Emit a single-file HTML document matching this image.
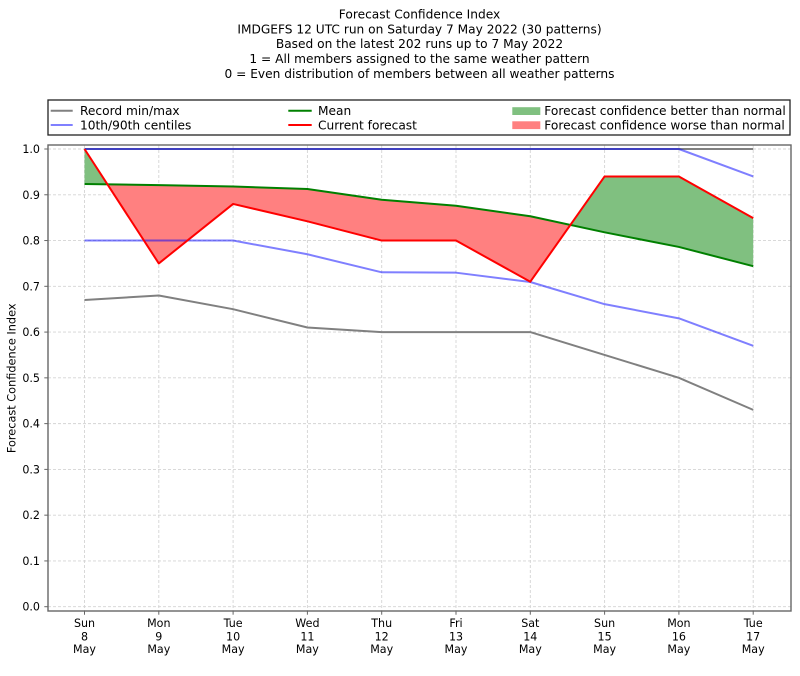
<!DOCTYPE html>
<html><head><meta charset="utf-8"><style>
html,body{margin:0;padding:0;background:#fff;}
svg{display:block;}
text{font-family:"DejaVu Sans","Liberation Sans",sans-serif;fill:#000;}
</style></head><body>
<svg width="800" height="676" viewBox="0 0 800 676" xmlns="http://www.w3.org/2000/svg">
<rect width="800" height="676" fill="#fff"/>
<!-- title -->
<g font-size="12.2" text-anchor="middle">
<text x="419.5" y="18.3">Forecast Confidence Index</text>
<text x="419.5" y="33.5">IMDGEFS 12 UTC run on Saturday 7 May 2022 (30 patterns)</text>
<text x="419.5" y="48">Based on the latest 202 runs up to 7 May 2022</text>
<text x="419.5" y="63.2">1 = All members assigned to the same weather pattern</text>
<text x="419.5" y="78.2">0 = Even distribution of members between all weather patterns</text>
</g>
<!-- legend -->
<rect x="48" y="100" width="742" height="35" fill="#fff" stroke="#222" stroke-width="1.3"/>
<g stroke-width="2">
<line x1="50.7" y1="110.7" x2="72.7" y2="110.7" stroke="#808080"/>
<line x1="50.7" y1="125" x2="72.7" y2="125" stroke="#8080ff"/>
<line x1="288.3" y1="110.7" x2="311.7" y2="110.7" stroke="#008000"/>
<line x1="288.3" y1="125" x2="311.7" y2="125" stroke="#ff0000"/>
</g>
<rect x="512.3" y="107.2" width="28" height="7.8" fill="#80c080"/>
<rect x="512.3" y="121.3" width="28" height="7.8" fill="#ff8080"/>
<g font-size="12.2">
<text x="80" y="115">Record min/max</text>
<text x="80" y="129.4">10th/90th centiles</text>
<text x="318" y="115">Mean</text>
<text x="318" y="129.4">Current forecast</text>
<text x="544.3" y="115">Forecast confidence better than normal</text>
<text x="544.3" y="129.4">Forecast confidence worse than normal</text>
</g>
<!-- grid -->
<g stroke="#d4d4d4" stroke-width="0.9" stroke-dasharray="3,2">
<line x1="48" x2="791" y1="149" y2="149"/>
<line x1="48" x2="791" y1="194.77" y2="194.77"/>
<line x1="48" x2="791" y1="240.54" y2="240.54"/>
<line x1="48" x2="791" y1="286.31" y2="286.31"/>
<line x1="48" x2="791" y1="332.08" y2="332.08"/>
<line x1="48" x2="791" y1="377.85" y2="377.85"/>
<line x1="48" x2="791" y1="423.62" y2="423.62"/>
<line x1="48" x2="791" y1="469.39" y2="469.39"/>
<line x1="48" x2="791" y1="515.16" y2="515.16"/>
<line x1="48" x2="791" y1="560.93" y2="560.93"/>
<line x1="48" x2="791" y1="606.7" y2="606.7"/>
<line y1="145" y2="611" x1="84.5" x2="84.5"/>
<line y1="145" y2="611" x1="158.8" x2="158.8"/>
<line y1="145" y2="611" x1="233.1" x2="233.1"/>
<line y1="145" y2="611" x1="307.4" x2="307.4"/>
<line y1="145" y2="611" x1="381.7" x2="381.7"/>
<line y1="145" y2="611" x1="456" x2="456"/>
<line y1="145" y2="611" x1="530.3" x2="530.3"/>
<line y1="145" y2="611" x1="604.6" x2="604.6"/>
<line y1="145" y2="611" x1="678.9" x2="678.9"/>
<line y1="145" y2="611" x1="753.2" x2="753.2"/>
</g>
<!-- fills -->
<polygon fill="#80c080" points="84.5,149 107.46,184.38 84.5,183.97"/>
<polygon fill="#ff8080" points="107.46,184.38 158.8,263.42 233.1,203.92 307.4,221.32 381.7,240.54 456,240.54 530.3,281.73 570.39,224.93 530.3,216.28 456,205.75 381.7,199.8 307.4,189 233.1,186.53 158.8,185.16"/>
<polygon fill="#80c080" points="570.39,224.93 604.6,176.46 678.9,176.46 753.2,218.11 753.2,266.17 678.9,246.95 604.6,232.3"/>
<!-- lines -->
<g fill="none" stroke-width="2" stroke-linejoin="round">
<polyline stroke="#808080" points="84.5,149 753.2,149"/>
<polyline stroke="#808080" points="84.5,300.04 158.8,295.46 233.1,309.2 307.4,327.5 381.7,332.08 456,332.08 530.3,332.08 604.6,354.97 678.9,377.85 753.2,409.89"/>
<polyline stroke="#0000ff" stroke-opacity="0.5" points="84.5,149 158.8,149 233.1,149 307.4,149 381.7,149 456,149 530.3,149 604.6,149 678.9,149 753.2,176.46"/>
<polyline stroke="#0000ff" stroke-opacity="0.5" points="84.5,240.54 158.8,240.54 233.1,240.54 307.4,254.27 381.7,272.3 456,272.68 530.3,282.01 604.6,304.16 678.9,318.35 753.2,345.81"/>
<polyline stroke="#008000" points="84.5,183.97 158.8,185.16 233.1,186.53 307.4,189 381.7,199.8 456,205.75 530.3,216.28 604.6,232.3 678.9,246.95 753.2,266.17"/>
<polyline stroke="#ff0000" points="84.5,149 158.8,263.42 233.1,203.92 307.4,221.32 381.7,240.54 456,240.54 530.3,281.73 604.6,176.46 678.9,176.46 753.2,218.11"/>
</g>
<!-- spines -->
<rect x="48" y="145" width="743" height="466" fill="none" stroke="#666" stroke-width="1.4"/>
<!-- ticks -->
<g stroke="#666" stroke-width="1">
<line x1="44.3" x2="48" y1="149" y2="149"/>
<line x1="44.3" x2="48" y1="194.77" y2="194.77"/>
<line x1="44.3" x2="48" y1="240.54" y2="240.54"/>
<line x1="44.3" x2="48" y1="286.31" y2="286.31"/>
<line x1="44.3" x2="48" y1="332.08" y2="332.08"/>
<line x1="44.3" x2="48" y1="377.85" y2="377.85"/>
<line x1="44.3" x2="48" y1="423.62" y2="423.62"/>
<line x1="44.3" x2="48" y1="469.39" y2="469.39"/>
<line x1="44.3" x2="48" y1="515.16" y2="515.16"/>
<line x1="44.3" x2="48" y1="560.93" y2="560.93"/>
<line x1="44.3" x2="48" y1="606.7" y2="606.7"/>
<line y1="611" y2="614.7" x1="84.5" x2="84.5"/>
<line y1="611" y2="614.7" x1="158.8" x2="158.8"/>
<line y1="611" y2="614.7" x1="233.1" x2="233.1"/>
<line y1="611" y2="614.7" x1="307.4" x2="307.4"/>
<line y1="611" y2="614.7" x1="381.7" x2="381.7"/>
<line y1="611" y2="614.7" x1="456" x2="456"/>
<line y1="611" y2="614.7" x1="530.3" x2="530.3"/>
<line y1="611" y2="614.7" x1="604.6" x2="604.6"/>
<line y1="611" y2="614.7" x1="678.9" x2="678.9"/>
<line y1="611" y2="614.7" x1="753.2" x2="753.2"/>
</g>
<!-- y tick labels -->
<g font-size="11.1" text-anchor="end">
<text x="40" y="153">1.0</text>
<text x="40" y="198.8">0.9</text>
<text x="40" y="244.5">0.8</text>
<text x="40" y="290.3">0.7</text>
<text x="40" y="336.1">0.6</text>
<text x="40" y="381.9">0.5</text>
<text x="40" y="427.6">0.4</text>
<text x="40" y="473.4">0.3</text>
<text x="40" y="519.2">0.2</text>
<text x="40" y="564.9">0.1</text>
<text x="40" y="610.7">0.0</text>
</g>
<text font-size="11.3" text-anchor="middle" transform="translate(15.5,378.3) rotate(-90)">Forecast Confidence Index</text>
<!-- x tick labels -->
<g font-size="11.1" text-anchor="middle">
<text x="84.5" y="627">Sun</text><text x="84.5" y="640.3">8</text><text x="84.5" y="653">May</text>
<text x="158.8" y="627">Mon</text><text x="158.8" y="640.3">9</text><text x="158.8" y="653">May</text>
<text x="233.1" y="627">Tue</text><text x="233.1" y="640.3">10</text><text x="233.1" y="653">May</text>
<text x="307.4" y="627">Wed</text><text x="307.4" y="640.3">11</text><text x="307.4" y="653">May</text>
<text x="381.7" y="627">Thu</text><text x="381.7" y="640.3">12</text><text x="381.7" y="653">May</text>
<text x="456" y="627">Fri</text><text x="456" y="640.3">13</text><text x="456" y="653">May</text>
<text x="530.3" y="627">Sat</text><text x="530.3" y="640.3">14</text><text x="530.3" y="653">May</text>
<text x="604.6" y="627">Sun</text><text x="604.6" y="640.3">15</text><text x="604.6" y="653">May</text>
<text x="678.9" y="627">Mon</text><text x="678.9" y="640.3">16</text><text x="678.9" y="653">May</text>
<text x="753.2" y="627">Tue</text><text x="753.2" y="640.3">17</text><text x="753.2" y="653">May</text>
</g>
</svg>
</body></html>
